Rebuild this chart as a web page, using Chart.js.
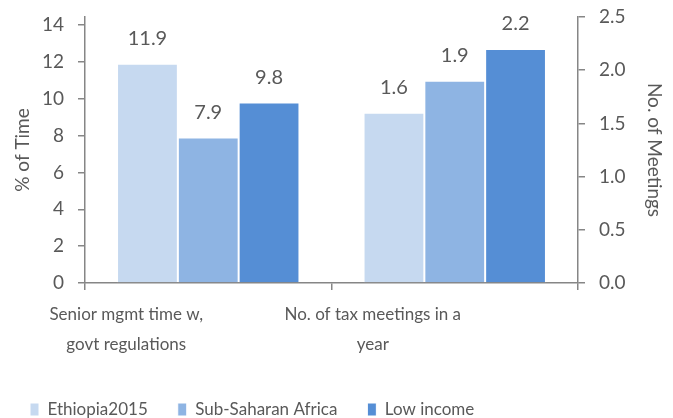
<!DOCTYPE html>
<html>
<head>
<meta charset="utf-8">
<script src="https://cdn.jsdelivr.net/npm/chart.js@4"></script>
<style>
  html, body { margin: 0; padding: 0; background: #fff; }
  #wrap { width: 673px; height: 418px; }
</style>
</head>
<body>
<div id="wrap"><canvas id="chart" width="673" height="418"></canvas></div>
<script>
// data
const categories  = [["Senior mgmt time w,", "govt regulations"], ["No. of tax meetings in a", "year"]];
const seriesNames = ["Ethiopia2015", "Sub-Saharan Africa", "Low income"];
const mgmtTime    = [11.9, 7.9, 9.8];   // % of time, left axis
const taxMeetings = [1.6, 1.9, 2.2];    // no. of meetings, right axis
const timeTicks   = [0, 2, 4, 6, 8, 10, 12, 14];
const colors      = ["#c6d9f0", "#8eb4e3", "#558ed5"];

const textColor = "#595959";
const axisColor = "#868686";
const fontFamily = "Lato, 'Open Sans', sans-serif";

// left group on % axis, right group on meetings axis
const datasets = [];
seriesNames.forEach((name, i) => {
  datasets.push({ label: name, data: [mgmtTime[i], null], yAxisID: "yTime",
    backgroundColor: colors[i], borderColor: "#fff", borderWidth: 1, skipNull: true });
});
seriesNames.forEach((name, i) => {
  datasets.push({ label: name, data: [null, taxMeetings[i]], yAxisID: "yMeet",
    backgroundColor: colors[i], borderColor: "#fff", borderWidth: 1, skipNull: true });
});

// value labels above bars
const valueLabels = {
  id: "valueLabels",
  afterDatasetsDraw(chart) {
    const ctx = chart.ctx;
    ctx.save();
    ctx.font = "20px " + fontFamily;
    ctx.fillStyle = textColor;
    ctx.textAlign = "center";
    ctx.textBaseline = "middle";
    chart.data.datasets.forEach((ds, di) => {
      chart.getDatasetMeta(di).data.forEach((bar, j) => {
        const v = ds.data[j];
        if (v == null) return;
        ctx.fillText(v.toFixed(1), bar.x, bar.y - 25);
      });
    });
    ctx.restore();
  }
};

Chart.defaults.font.family = fontFamily;
Chart.defaults.color = textColor;

new Chart(document.getElementById("chart"), {
  type: "bar",
  data: { labels: categories, datasets },
  options: {
    responsive: false,
    animation: false,
    layout: { padding: { top: 17, left: 0, right: 0, bottom: -10 } },
    datasets: { bar: { categoryPercentage: 0.74, barPercentage: 1 } },
    plugins: {
      tooltip: { enabled: false },
      legend: {
        position: "bottom",
        align: "start",
        labels: {
          filter: item => item.datasetIndex < 3,
          boxWidth: 9,
          boxHeight: 13,
          padding: 30,
          font: { size: 17 },
          color: textColor
        }
      }
    },
    scales: {
      x: {
        offset: true,
        border: { color: axisColor, width: 1.5 },
        grid: { offset: true, drawOnChartArea: false, color: axisColor, tickLength: 7, lineWidth: 1.5 },
        ticks: { font: { size: 17, lineHeight: 1.75 }, color: textColor, labelOffset: -82, maxRotation: 0, padding: 10 },
        afterFit: s => { s.height = 88; s.paddingLeft = 0; s.paddingRight = 0; }
      },
      yTime: {
        position: "left",
        min: 0,
        max: 14 * 266 / 258,
        border: { color: axisColor, width: 1.5 },
        grid: { drawOnChartArea: false, color: axisColor, tickLength: 7, lineWidth: 1.5 },
        ticks: { font: { size: 19 }, color: textColor, padding: 14 },
        afterBuildTicks: s => { s.ticks = timeTicks.map(v => ({ value: v })); },
        title: { display: true, text: "% of Time", font: { size: 19 }, color: textColor, padding: { top: 11, bottom: 0 } },
        afterFit: s => { s.width = 85; s.paddingTop = 0; s.paddingBottom = 0; }
      },
      yMeet: {
        position: "right",
        min: 0,
        max: 2.5,
        border: { color: axisColor, width: 1.5 },
        grid: { drawOnChartArea: false, color: axisColor, tickLength: 7, lineWidth: 1.5 },
        ticks: { stepSize: 0.5, font: { size: 19 }, color: textColor, padding: 14,
                 callback: v => v.toFixed(1) },
        title: { display: true, text: "No. of Meetings", font: { size: 19 }, color: textColor, padding: { top: 7, bottom: 0 } },
        afterFit: s => { s.width = 95; s.paddingTop = 0; s.paddingBottom = 0; }
      }
    }
  },
  plugins: [valueLabels]
});
</script>
</body>
</html>
